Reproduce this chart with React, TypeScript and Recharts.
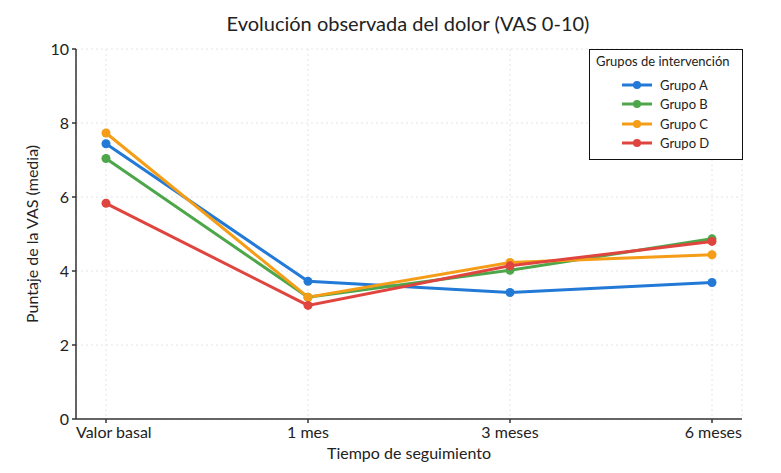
import React from "react";
import {
  LineChart,
  Line,
  XAxis,
  YAxis,
  CartesianGrid,
} from "recharts";

const periods = ["Valor basal", "1 mes", "3 meses", "6 meses"];
const grupoA = [7.44, 3.72, 3.42, 3.69];
const grupoB = [7.04, 3.29, 4.02, 4.87];
const grupoC = [7.73, 3.29, 4.23, 4.44];
const grupoD = [5.83, 3.07, 4.14, 4.8];
const yTicks = [0, 2, 4, 6, 8, 10];

const series = [
  { key: "Grupo A", values: grupoA, color: "#2279d6" },
  { key: "Grupo B", values: grupoB, color: "#4ea64a" },
  { key: "Grupo C", values: grupoC, color: "#f59d16" },
  { key: "Grupo D", values: grupoD, color: "#e0443f" },
];

const data = periods.map((p, i) => {
  const row: Record<string, any> = { periodo: p };
  series.forEach((s) => (row[s.key] = s.values[i]));
  return row;
});

const FONT = "Lato, 'Open Sans', sans-serif";

const XTick = ({ x, y, payload, index }: any) => {
  const last = index === periods.length - 1;
  const first = index === 0;
  const anchor = first ? "start" : last ? "end" : "middle";
  const dx = first ? -30 : last ? 30 : 0;
  return (
    <text
      x={x + dx}
      y={y + 13}
      textAnchor={anchor}
      fontSize={16}
      fontFamily={FONT}
      fill="#222"
    >
      {payload.value}
    </text>
  );
};

const LegendBox = () => (
  <div
    style={{
      position: "absolute",
      top: 49,
      left: 589,
      border: "1px solid #111",
      background: "#fff",
      padding: "3px 8px 6px 6px",
      fontFamily: FONT,
      fontSize: 13,
      color: "#222",
      width: 138,
    }}
  >
    <div style={{ marginBottom: 6 }}>Grupos de intervención</div>
    {series.map((s) => (
      <div
        key={s.key}
        style={{ display: "flex", alignItems: "center", height: 19.5, paddingLeft: 26 }}
      >
        <svg width={30} height={10} style={{ marginRight: 8 }}>
          <line x1={0} y1={5} x2={30} y2={5} stroke={s.color} strokeWidth={3} />
          <circle cx={15} cy={5} r={4} fill={s.color} />
        </svg>
        <span>{s.key}</span>
      </div>
    ))}
  </div>
);

export default function App() {
  return (
    <div style={{ position: "relative", width: 781, height: 473, background: "#fff" }}>
      <style>{`body{margin:0}`}</style>
      <div
        style={{
          position: "absolute",
          top: 11,
          left: 0,
          width: 816,
          textAlign: "center",
          fontFamily: FONT,
          fontSize: 20,
          color: "#222",
        }}
      >
        Evolución observada del dolor (VAS 0-10)
      </div>
      <LineChart
        width={781}
        height={473}
        data={data}
        margin={{ top: 49, right: 39, bottom: 0, left: 0 }}
      >
        <CartesianGrid stroke="#e4e4e4" strokeDasharray="2 3" />
        <XAxis
          dataKey="periodo"
          height={54}
          padding={{ left: 30, right: 30 }}
          tick={<XTick />}
          tickSize={4}
          stroke="#333"
          strokeWidth={1.5}
          interval={0}
          label={{
            value: "Tiempo de seguimiento",
            position: "insideBottom",
            offset: 14,
            fontSize: 16,
            fontFamily: FONT,
            fill: "#222",
          }}
        />
        <YAxis
          width={76}
          domain={[0, 10]}
          ticks={yTicks}
          tickSize={4}
          tickMargin={3}
          stroke="#333"
          strokeWidth={1.5}
          tick={{ fontSize: 16, fontFamily: FONT, fill: "#222" }}
          label={{
            value: "Puntaje de la VAS (media)",
            angle: -90,
            position: "insideLeft",
            offset: 32,
            style: { textAnchor: "middle" },
            fontSize: 16,
            fontFamily: FONT,
            fill: "#222",
          }}
        />
        {series.map((s) => (
          <Line
            key={s.key}
            dataKey={s.key}
            stroke={s.color}
            strokeWidth={3}
            dot={{ r: 4.5, fill: s.color, stroke: s.color, strokeWidth: 0 }}
            activeDot={false}
            isAnimationActive={false}
          />
        ))}
      </LineChart>
      <LegendBox />
    </div>
  );
}
